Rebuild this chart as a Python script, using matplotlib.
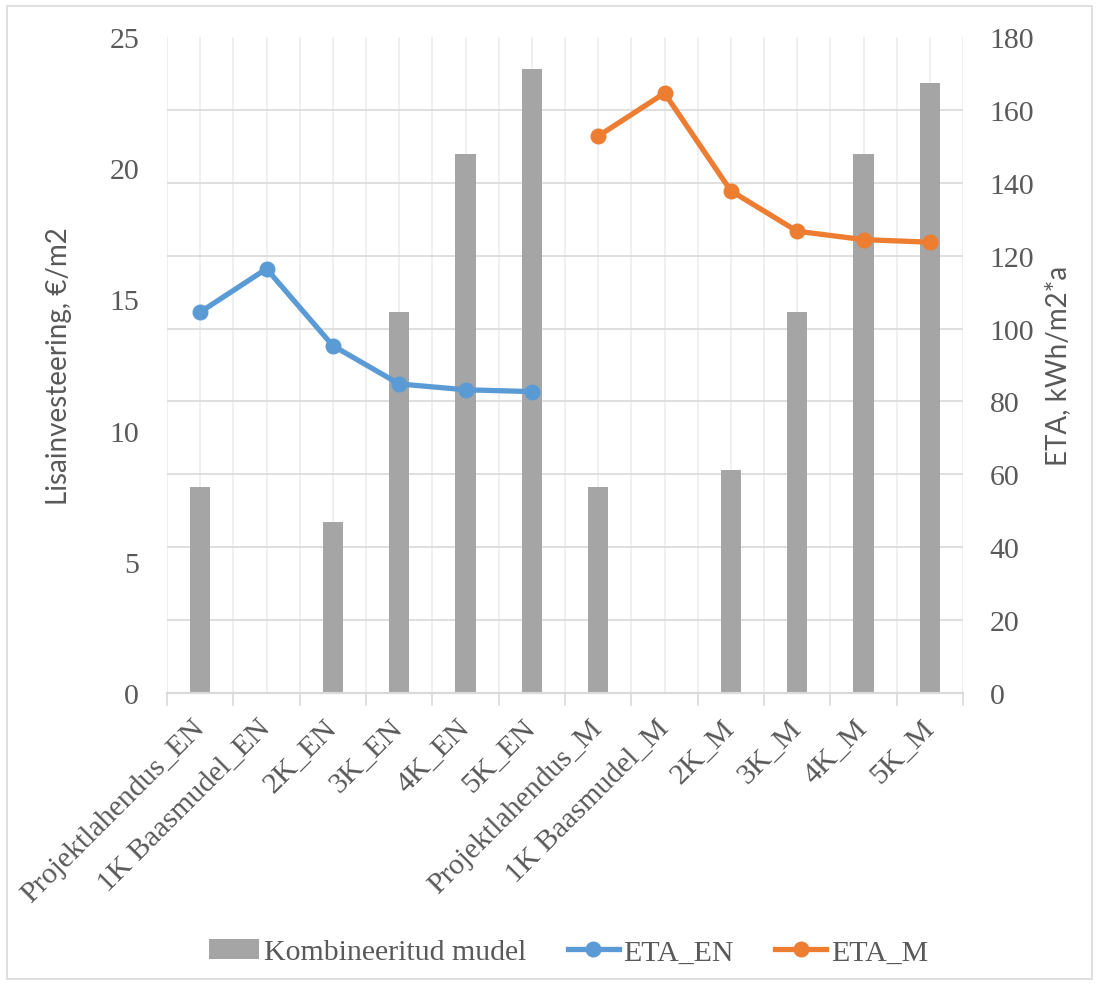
import numpy as np
import matplotlib
matplotlib.use("Agg")
import matplotlib.pyplot as plt
from matplotlib.patches import Rectangle
from matplotlib.ticker import FixedLocator

categories = ["Projektlahendus_EN", "1K Baasmudel_EN", "2K_EN", "3K_EN", "4K_EN", "5K_EN",
              "Projektlahendus_M", "1K Baasmudel_M", "2K_M", "3K_M", "4K_M", "5K_M"]
# Kombineeritud mudel, lisainvesteering EUR/m2
investment = [7.85, 0, 6.52, 14.52, 20.54, 23.78,
              7.85, 0, 8.50, 14.52, 20.54, 23.25]
# ETA kWh/m2*a, first six cases and last six cases
eta_en = [104.5, 116.4, 95.3, 84.8, 83.2, 82.7]
eta_m = [152.8, 164.6, 137.8, 126.7, 124.4, 123.7]

serif = ["Liberation Serif", "DejaVu Serif"]
sans = ["Lato", "DejaVu Sans"]
grey_txt = "#595959"

fig = plt.figure(figsize=(10.99, 9.87), dpi=100)
ax = fig.add_axes([167 / 1099, 1 - 694 / 987, (963 - 167) / 1099, (694 - 38) / 987])
ax2 = ax.twinx()

x = np.arange(len(categories))
bars = ax.bar(x, investment, width=0.31, color="#a5a5a5", zorder=2, label="Kombineeritud mudel")

l1, = ax2.plot(x[:6], eta_en, color="#5b9bd5", lw=3.8, marker="o", ms=10.5, label="ETA_EN")
l2, = ax2.plot(x[6:], eta_m, color="#ed7d31", lw=3.8, marker="o", ms=10.5, label="ETA_M")

ax.set_xlim(-0.5, len(categories) - 0.5)
ax.set_ylim(0, 25)
ax2.set_ylim(0, 180)
ax.set_yticks(np.arange(0, 26, 5))
ax2.set_yticks(np.arange(0, 181, 20))

# horizontal grid follows the right axis, drawn behind the bars
ax.yaxis.set_minor_locator(FixedLocator(np.arange(0, 181, 20) * 25 / 180))
ax.grid(which="minor", axis="y", color="#d9d9d9", lw=1.2)
ax.set_xticks(x)
ax.set_xticks(np.arange(-0.5, len(categories), 1), minor=True)
ax.grid(which="both", axis="x", color="#eeeeee", lw=1.2)
ax.set_axisbelow(True)

ax.set_xticklabels(categories, rotation=45, ha="right", va="center", rotation_mode="anchor",
                   fontfamily=serif, fontsize=21.5, color=grey_txt)
ax.tick_params(axis="x", which="major", length=0, pad=22)
ax.tick_params(axis="x", which="minor", length=9, color="#d9d9d9", width=1.2)
ax.tick_params(axis="y", which="both", length=0, pad=20)
ax2.tick_params(axis="y", length=0, pad=19)
for lab in ax.get_yticklabels() + ax2.get_yticklabels():
    lab.set_fontfamily(serif)
    lab.set_fontsize(21.5)
    lab.set_color(grey_txt)

for a in (ax, ax2):
    for s in ("top", "left", "right"):
        a.spines[s].set_visible(False)
    a.spines["bottom"].set_color("#d9d9d9")
    a.spines["bottom"].set_linewidth(1.5)

fig.text(59 / 1099, 1 - 366 / 987, "Lisainvesteering, €/m2", rotation=90, ha="center", va="center",
         fontfamily=sans, fontsize=20, color=grey_txt)
fig.text(1058 / 1099, 1 - 366 / 987, "ETA, kWh/m2*a", rotation=90, ha="center", va="center",
         fontfamily=sans, fontsize=20, color=grey_txt)

fig.legend(handles=[bars, l1, l2], loc="center", bbox_to_anchor=(0.517, 1 - 953 / 987), ncol=3,
           frameon=False, prop={"family": serif, "size": 21.5}, labelcolor=grey_txt,
           handlelength=1.7, handletextpad=0.15, columnspacing=1.4)

fig.patches.append(Rectangle((7 / 1099, 7 / 987), 1085 / 1099, 973 / 987, transform=fig.transFigure,
                             fill=False, edgecolor="#d9d9d9", lw=1.2))

fig.savefig("out.png", dpi=100)
